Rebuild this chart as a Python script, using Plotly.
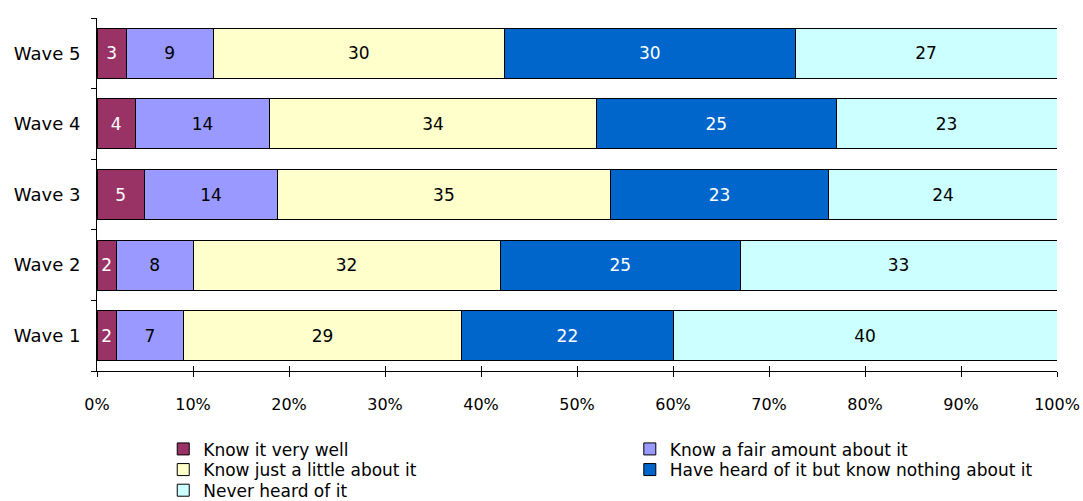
import plotly.graph_objects as go

waves = ["Wave 1", "Wave 2", "Wave 3", "Wave 4", "Wave 5"]
series_names = [
    "Know it very well",
    "Know a fair amount about it",
    "Know just a little about it",
    "Have heard of it but know nothing about it",
    "Never heard of it",
]
know_very_well = [2, 2, 5, 4, 3]
know_fair = [7, 8, 14, 14, 9]
know_little = [29, 32, 35, 34, 30]
heard_nothing = [22, 25, 23, 25, 30]
never_heard = [40, 33, 24, 23, 27]
x_ticks = [0, 10, 20, 30, 40, 50, 60, 70, 80, 90, 100]
x_tick_labels = [f"{t}%" for t in x_ticks]

all_values = [know_very_well, know_fair, know_little, heard_nothing, never_heard]
colors = ["#993366", "#9999FF", "#FFFFCC", "#0066CC", "#CCFFFF"]
text_colors = ["white", "black", "black", "white", "black"]

FONT = "DejaVu Sans"
legend_ids = ["legend", "legend2", "legend3", "legend4", "legend5"]
# legend slot positions (paper coords): two columns, three rows
legend_x = [0.069, 0.555, 0.069, 0.555, 0.069]
legend_y = [-0.222, -0.222, -0.2805, -0.2805, -0.339]

fig = go.Figure()
for name, vals, c, tc, lid in zip(series_names, all_values, colors, text_colors, legend_ids):
    fig.add_trace(go.Bar(
        y=waves, x=vals, name=name, orientation="h",
        marker=dict(color=c, line=dict(color="black", width=1)),
        text=vals, texttemplate="%{text}", textposition="inside",
        insidetextanchor="middle", textangle=0,
        textfont=dict(color=tc, size=17, family=FONT),
        hoverinfo="skip", legend=lid,
    ))

# invisible trace to create overlay axis for inward ticks
fig.add_trace(go.Scatter(x=[0, 100], y=["Wave 1", "Wave 1"], xaxis="x2", showlegend=False,
                         mode="markers", marker=dict(opacity=0), hoverinfo="skip"))

layout_legends = {}
for lid, lx, ly in zip(legend_ids, legend_x, legend_y):
    layout_legends[lid] = dict(
        x=lx, xanchor="left", y=ly, yanchor="middle",
        orientation="h", font=dict(size=17, family=FONT),
        itemwidth=30, bgcolor="rgba(0,0,0,0)", borderwidth=0,
    )

fig.update_layout(
    barmode="stack", barnorm="percent", bargap=0.29,
    width=1083, height=501,
    margin=dict(l=97, r=26, t=18, b=130, autoexpand=False),
    plot_bgcolor="white", paper_bgcolor="white",
    font=dict(family=FONT, size=17, color="black"),
    xaxis=dict(range=[0, 100], tickvals=x_ticks, ticktext=x_tick_labels,
               showgrid=False, zeroline=False, showline=True, linecolor="black",
               linewidth=1, ticks="outside", ticklen=5, tickcolor="black",
               tickfont=dict(size=16, family=FONT), ticklabelstandoff=14,
               automargin=False),
    xaxis2=dict(range=[0, 100], tickvals=x_ticks, overlaying="x", side="bottom",
                showticklabels=False, showgrid=False, zeroline=False,
                ticks="inside", ticklen=5, tickcolor="black", showline=False,
                automargin=False),
    yaxis=dict(categoryorder="array", categoryarray=waves, showgrid=False,
               showline=True, linecolor="black", linewidth=1, ticks="outside",
               tickson="boundaries", ticklen=5, tickcolor="black",
               tickfont=dict(size=18, family=FONT), ticklabelstandoff=12,
               automargin=False),
    showlegend=True,
    **layout_legends,
)

fig.write_html("out.html")
